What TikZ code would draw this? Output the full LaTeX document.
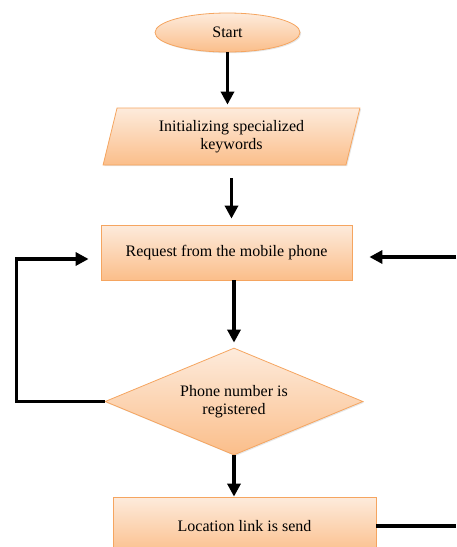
\documentclass[tikz,border=0pt]{standalone}
\usepackage{fontspec}
\setmainfont{Liberation Serif}
\usetikzlibrary{shapes.geometric,arrows.meta,shadows}
\definecolor{boxtop}{HTML}{FDEBDC}
\definecolor{boxbot}{HTML}{FBBE8A}
\definecolor{boxline}{HTML}{F5A560}

\begin{document}
\begin{tikzpicture}[x=1pt,y=-1pt,>={Triangle[length=13pt,width=13pt]},line width=3.2pt,
  flow node/.style={top color=boxtop,bottom color=boxbot,draw=boxline,line width=0.8pt,
    font=\fontsize{16}{18}\selectfont,align=center,inner sep=2pt,
    drop shadow={shadow xshift=1.2pt,shadow yshift=-1.2pt,opacity=0.2}},
  term node/.style={flow node,ellipse,minimum width=145pt,minimum height=39pt},
  io node/.style={flow node,trapezium,trapezium left angle=76,trapezium right angle=104,
    trapezium stretches=true,minimum width=257pt,minimum height=57pt},
  proc node/.style={flow node,rectangle},
  dec node/.style={flow node,diamond,shape aspect=2.4,minimum width=258pt,minimum height=107pt,inner sep=0pt}]

  \useasboundingbox (0,0) rectangle (456,547);
  \clip (0,0) rectangle (456,547);

  \node[term node] (0) at (227.5,32.5) {Start};
  \node[io node] (1) at (231.5,136.5) {Initializing specialized\\keywords};
  \node[proc node,minimum width=251pt,minimum height=55pt] (2) at (226.5,252.5) {Request from the mobile phone};
  \node[dec node] (3) at (234,401.5) {Phone number is\\registered};
  \node[proc node,minimum width=263pt,minimum height=58pt] (4) at (244.5,526) {Location link is send};

  \coordinate (5) at (456,257);
  \coordinate (6) at (456,527);

  \path[->]
    (0.south) edge [shorten >=3pt] (0.south |- 1.north)
    (1.center |- 1.south) edge [shorten <=13pt,shorten >=6pt] (1.center |- 2.north)
    (2.south -| 3.north) edge [shorten >=5pt] (3.north)
    (3.south) edge (4.north -| 3.south)
    (5) edge ([xshift=17pt]2.east |- 5)
;
  \draw[->] (3.west) -- ++(-88,0) |- ([xshift=-12pt,yshift=-6.5pt]2.west);
  \draw (4.east) -- (4.east -| 6);
\end{tikzpicture}
\end{document}
